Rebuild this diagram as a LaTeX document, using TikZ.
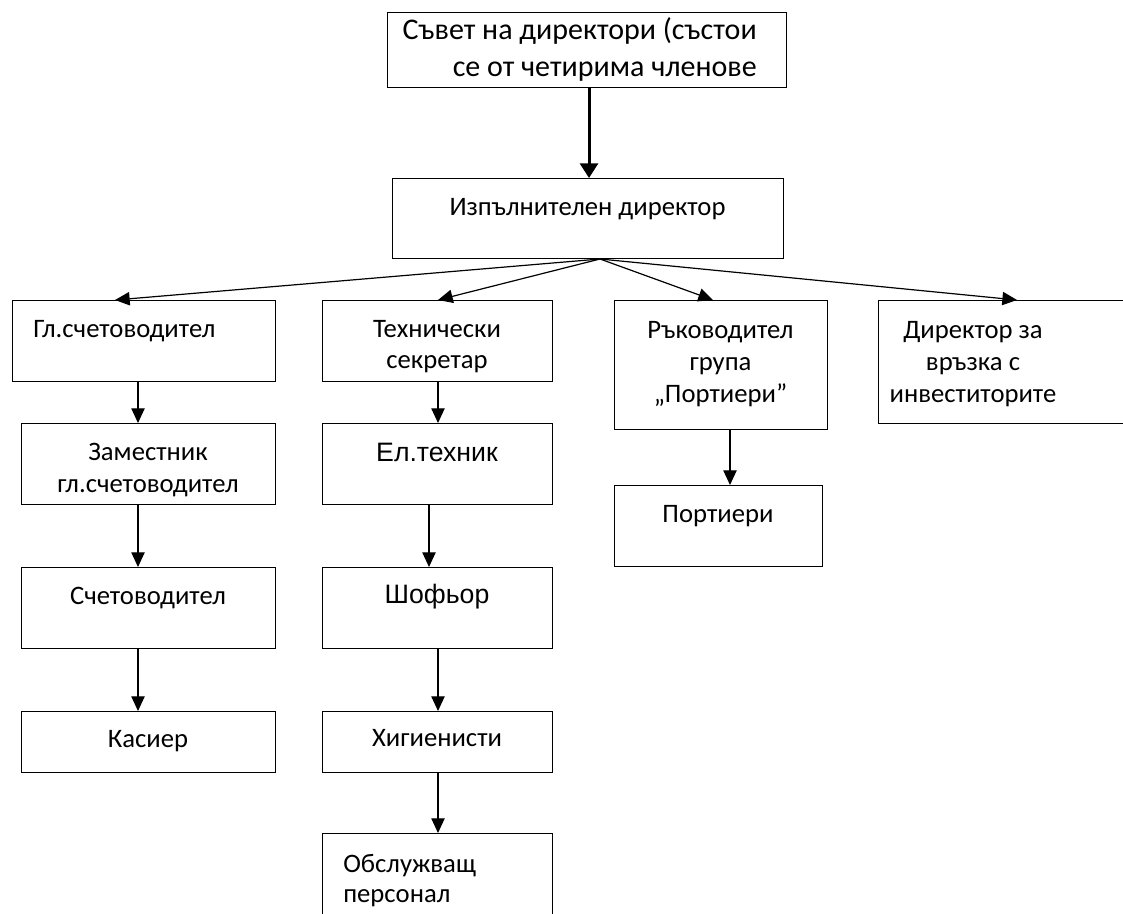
\documentclass[tikz,border=0pt]{standalone}
\usepackage{fontspec}
\setmainfont{Carlito}
\newfontfamily\arialfont{Liberation Sans}
\usetikzlibrary{arrows.meta, calc}

\begin{document}
\begin{tikzpicture}[
    x=0.75pt, y=-0.75pt,
    line join=miter,
    box/.style={draw, line width=0.9pt, rectangle, inner sep=0pt, anchor=north west},
    txt/.style={font=\fontsize{20}{24}\selectfont, inner sep=0pt, align=center, anchor=base},
    arr/.style={line width=0.9pt, -{Triangle[length=11pt, width=10pt]}},
    bigarr/.style={line width=2.25pt, -{Triangle[length=11pt, width=13.5pt]}}
]

\useasboundingbox (0,0) rectangle (1123,913);

% Boxes
\node[box, minimum width=299.25pt, minimum height=56.25pt] (board) at (387,12) {};
\node[box, minimum width=293.25pt, minimum height=60pt] (exec) at (392,178) {};
\node[box, minimum width=197.25pt, minimum height=60.75pt] (chief) at (12,300) {};
\node[box, minimum width=172.5pt, minimum height=60.75pt] (tech) at (322,300) {};
\node[box, minimum width=159.75pt, minimum height=96.75pt] (head) at (614,300) {};
\node[box, minimum width=202.5pt, minimum height=92.25pt] (ir) at (878,300) {};
\node[box, minimum width=190.5pt, minimum height=60.75pt] (deputy) at (21,423) {};
\node[box, minimum width=190.5pt, minimum height=60.75pt] (acc) at (21,567) {};
\node[box, minimum width=190.5pt, minimum height=45.75pt] (cashier) at (21,711) {};
\node[box, minimum width=172.5pt, minimum height=60.75pt] (elec) at (322,423) {};
\node[box, minimum width=172.5pt, minimum height=60.75pt] (driver) at (322,567) {};
\node[box, minimum width=172.5pt, minimum height=45.75pt] (hyg) at (322,711) {};
\node[box, minimum width=172.5pt, minimum height=82.5pt] (staff) at (322,833) {};
\node[box, minimum width=156pt, minimum height=60.75pt] (port) at (614,485) {};

% Texts (multi-line texts sit on their last baseline)
\node[txt, align=right, anchor=base east, font=\fontsize{22.5}{27.75}\selectfont] (boardtxt) at (757,77)
    {Съвет на директори (състои\\се от четирима членове};
\node[txt] (exectxt) at (587.5,215) {Изпълнителен директор};
\node[txt, anchor=base west] (chieftxt) at (33,337) {Гл.счетоводител};
\node[txt, font=\fontsize{20}{23.25}\selectfont] (techtxt) at (437,368) {Технически\\секретар};
\node[txt] (headtxt) at (720.5,402) {Ръководител\\група\\„Портиери”};
\node[txt] (irtxt) at (973,402) {Директор за\\връзка с\\инвеститорите};
\node[txt] (deputytxt) at (148,492) {Заместник\\гл.счетоводител};
\node[txt] (acctxt) at (148,604) {Счетоводител};
\node[txt] (cashiertxt) at (148,747) {Касиер};
\node[txt, font=\arialfont\fontsize{20}{24}\selectfont] (electxt) at (437,461) {Ел.техник};
\node[txt, font=\arialfont\fontsize{20}{24}\selectfont] (drivertxt) at (437,603) {Шофьор};
\node[txt] (hygtxt) at (437,746) {Хигиенисти};
\node[txt, align=left, anchor=base west, font=\fontsize{20}{22.5}\selectfont] (stafftxt) at (343,902)
    {Обслужващ\\персонал};
\node[txt] (porttxt) at (718,522) {Портиери};

% Arrow columns
\coordinate (fan) at (600,259);
\coordinate (c0) at (589,0);
\coordinate (c1) at (115,0);
\coordinate (c2) at (438,0);
\coordinate (c3) at (713,0);
\coordinate (c4) at (1017,0);
\coordinate (ca) at (138,0);
\coordinate (cb) at (429,0);
\coordinate (cc) at (730,0);

% Arrows
\draw[bigarr] (board.south -| c0) -- (exec.north -| c0);
\foreach \t/\c in {chief/c1, tech/c2, head/c3, ir/c4}
    \draw[arr] (fan) -- (\t.north -| \c);
\foreach \a/\b in {chief/deputy, deputy/acc, acc/cashier}
    \draw[arr] (\a.south -| ca) -- (\b.north -| ca);
\draw[arr] (tech.south -| c2) -- (elec.north -| c2);
\draw[arr] (elec.south -| cb) -- (driver.north -| cb);
\draw[arr] (driver.south -| c2) -- (hyg.north -| c2);
\draw[arr] (hyg.south -| c2) -- (staff.north -| c2);
\draw[arr] (head.south -| cc) -- (port.north -| cc);

\end{tikzpicture}
\end{document}
